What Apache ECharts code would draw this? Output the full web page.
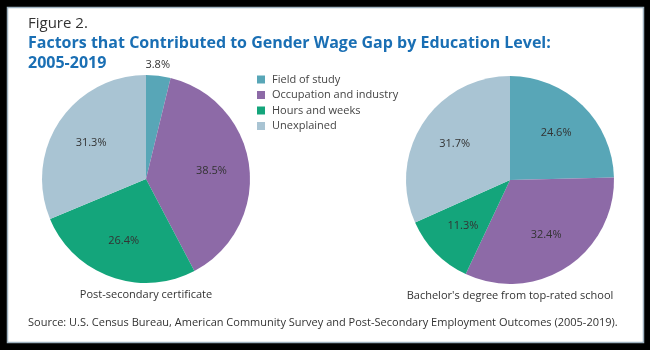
<!DOCTYPE html>
<html>
<head>
<meta charset="utf-8">
<script src="https://cdn.jsdelivr.net/npm/echarts@6/dist/echarts.min.js"></script>
<style>
  html, body { margin: 0; padding: 0; background: #000; }
  #chart { width: 650px; height: 350px; }
</style>
</head>
<body>
<div id="chart"></div>
<script>
// Components of the gender wage gap, in percent
const factors = ['Field of study', 'Occupation and industry', 'Hours and weeks', 'Unexplained'];
const certificateShares = [3.8, 38.5, 26.4, 31.3];
const bachelorShares = [24.6, 32.4, 11.3, 31.7];
const pieCaptions = ['Post-secondary certificate', "Bachelor's degree from top-rated school"];
const colors = ['#58a6b7', '#8d6aa7', '#14a57b', '#a9c4d3'];

const FONT = '"Open Sans", Lato, sans-serif';
const pieRadius = 104;
const pieCenters = [[146, 179], [510, 180]];

// Push the in-slice labels a little further out than mid-radius;
// small slices get their label just outside the rim.
function makeLabelLayout(seriesIdx, values) {
  const total = values.reduce((a, b) => a + b, 0);
  return function (p) {
    const c = pieCenters[seriesIdx];
    const v = values[p.dataIndex];
    if (v / total < 0.06) {
      let before = 0;
      for (let i = 0; i < p.dataIndex; i++) before += values[i];
      const a = ((before + v / 2) / total) * Math.PI * 2;
      const d = pieRadius + 11;
      return { x: c[0] + Math.sin(a) * d - 2, y: c[1] - Math.cos(a) * d, align: 'center', verticalAlign: 'middle' };
    }
    const r = p.labelRect;
    const lx = r.x + r.width / 2, ly = r.y + r.height / 2;
    const k = 1.2;
    return { x: c[0] + (lx - c[0]) * k, y: c[1] + (ly - c[1]) * k, align: 'center', verticalAlign: 'middle' };
  };
}

function pieSeries(idx, values) {
  const total = values.reduce((a, b) => a + b, 0);
  return {
    type: 'pie',
    center: pieCenters[idx],
    radius: pieRadius,
    startAngle: 90,
    clockwise: true,
    silent: true,
    animation: false,
    itemStyle: { borderWidth: 0 },
    label: {
      show: true,
      position: 'inside',
      formatter: p => p.value.toFixed(1) + '%',
      color: '#333',
      fontFamily: FONT,
      fontSize: 11
    },
    labelLine: { show: false, length: 6, length2: 0 },
    labelLayout: makeLabelLayout(idx, values),
    data: factors.map((name, i) => {
      const item = { name: name, value: values[i] };
      if (values[i] / total < 0.06) {
        item.label = { position: 'outside' };
      }
      return item;
    })
  };
}

const chart = echarts.init(document.getElementById('chart'), null, { renderer: 'canvas' });
chart.setOption({
  backgroundColor: '#000',
  color: colors,
  animation: false,
  textStyle: { fontFamily: FONT },
  graphic: [
    {
      type: 'rect', z: -10,
      shape: { x: 7.5, y: 7.5, width: 636, height: 335 },
      style: { fill: '#fff', stroke: '#9fb2c0', lineWidth: 1.5 }
    },
    {
      type: 'text', left: 28, top: 16,
      style: { text: 'Figure 2.', font: '15px ' + FONT, fill: '#333' }
    },
    {
      type: 'text', left: 28, top: 33,
      style: {
        text: 'Factors that Contributed to Gender Wage Gap by Education Level:\n2005-2019',
        font: 'bold 16px ' + FONT, fill: '#1a6fb4', lineHeight: 20
      }
    },
    {
      type: 'text', x: pieCenters[0][0], y: 295,
      style: { text: pieCaptions[0], font: '11px ' + FONT, fill: '#333', align: 'center', verticalAlign: 'middle' }
    },
    {
      type: 'text', x: pieCenters[1][0], y: 296,
      style: { text: pieCaptions[1], font: '11px ' + FONT, fill: '#333', align: 'center', verticalAlign: 'middle' }
    },
    {
      type: 'text', x: 28, y: 323,
      style: {
        text: 'Source: U.S. Census Bureau, American Community Survey and Post-Secondary Employment Outcomes (2005-2019).',
        font: '11px ' + FONT, fill: '#333', verticalAlign: 'middle'
      }
    }
  ],
  legend: {
    orient: 'vertical',
    left: 252,
    top: 69,
    icon: 'rect',
    itemWidth: 8,
    itemHeight: 8,
    itemGap: 4.5,
    selectedMode: false,
    data: factors,
    textStyle: { color: '#444', fontSize: 11, fontFamily: FONT, padding: [0, 0, 0, 2] }
  },
  series: [pieSeries(0, certificateShares), pieSeries(1, bachelorShares)]
});
</script>
</body>
</html>
